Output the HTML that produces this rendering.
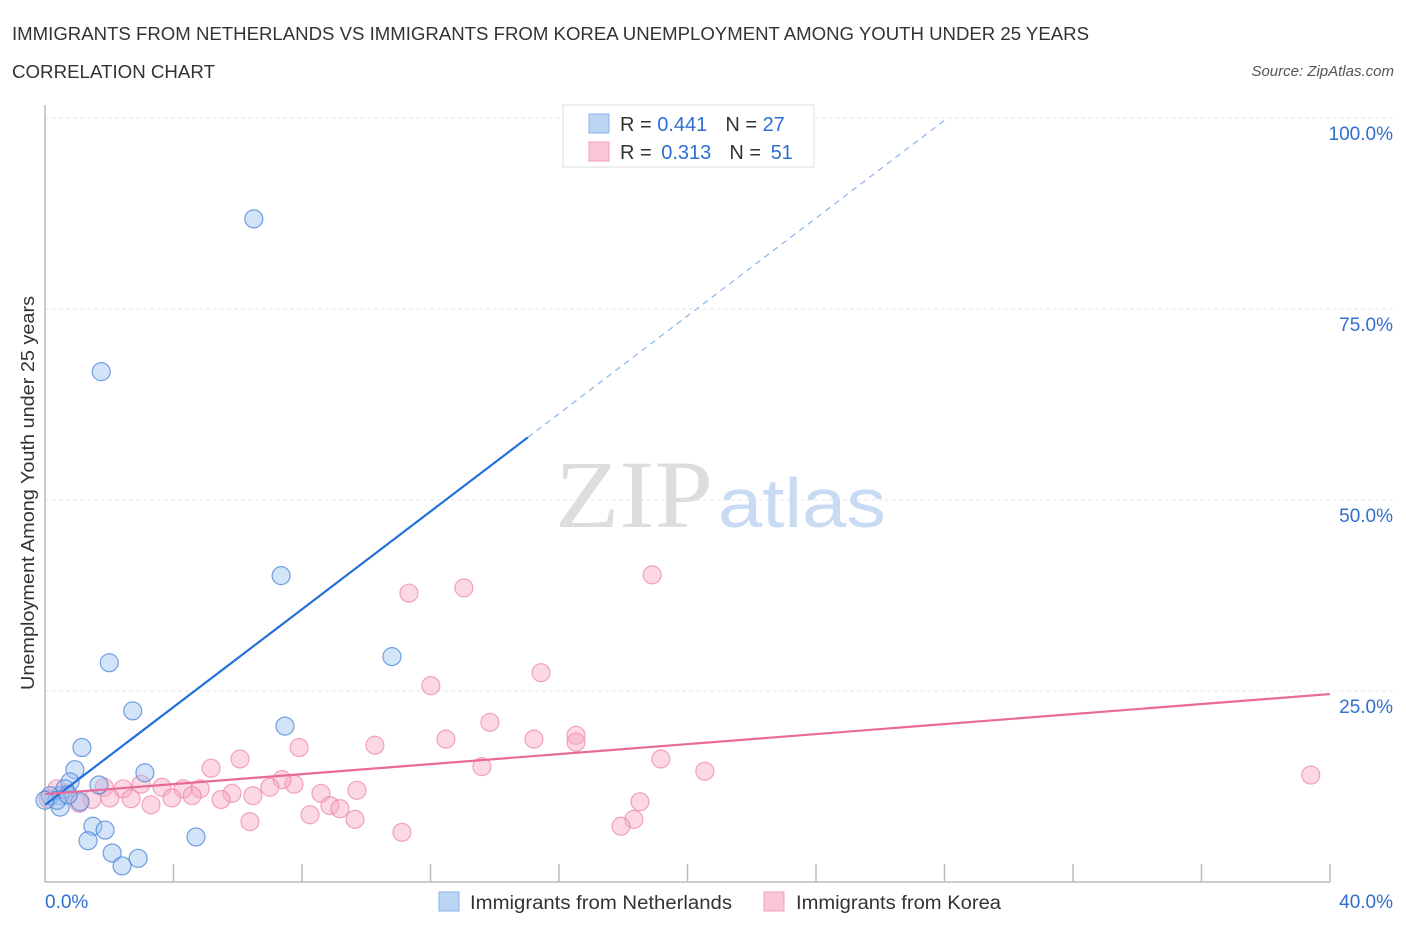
<!DOCTYPE html>
<html><head><meta charset="utf-8"><style>
body{margin:0;background:#fff;font-family:"Liberation Sans",sans-serif;}
</style></head><body>
<svg width="1406" height="930" xmlns="http://www.w3.org/2000/svg" style="font-family:'Liberation Sans',sans-serif">
<text x="12" y="40" font-size="18" fill="#333" textLength="1077" lengthAdjust="spacingAndGlyphs">IMMIGRANTS FROM NETHERLANDS VS IMMIGRANTS FROM KOREA UNEMPLOYMENT AMONG YOUTH UNDER 25 YEARS</text>
<text x="12" y="78" font-size="18" fill="#333" textLength="203" lengthAdjust="spacingAndGlyphs">CORRELATION CHART</text>
<text x="1394" y="76" font-size="15" fill="#555" font-style="italic" text-anchor="end">Source: ZipAtlas.com</text>
<g id="grid"></g>
<text x="555" y="527" font-size="96" fill="#ddd" font-family="Liberation Serif" textLength="158" lengthAdjust="spacingAndGlyphs">ZIP</text>
<text x="718" y="527" font-size="70" fill="#c9dbf3" textLength="168" lengthAdjust="spacingAndGlyphs">atlas</text>
<g id="marks"></g>
<g>
<rect x="563" y="105" width="251" height="62" fill="#fff" stroke="#ddd"/>
<rect x="589" y="114" width="20" height="19" fill="#bcd5f5" stroke="#8ab4ea"/>
<rect x="589" y="142" width="20" height="19" fill="#f9c6d5" stroke="#f0a0b8"/>
<text x="620" y="131" font-size="20" fill="#333">R = <tspan fill="#2f6fd0">0.441</tspan><tspan dx="18">N = </tspan><tspan fill="#2f6fd0">27</tspan></text>
<text x="620" y="159" font-size="20" fill="#333">R = <tspan fill="#2f6fd0" dx="4">0.313</tspan><tspan dx="18">N = </tspan><tspan fill="#2f6fd0" dx="4">51</tspan></text>
</g>
<text transform="translate(34,493) rotate(-90)" font-size="18" fill="#333" text-anchor="middle" textLength="394" lengthAdjust="spacingAndGlyphs">Unemployment Among Youth under 25 years</text>
<text x="45" y="908" font-size="19" fill="#2f6fd0">0.0%</text>
<text x="1393" y="908" font-size="19" fill="#2f6fd0" text-anchor="end">40.0%</text>
<g>
<rect x="439" y="892" width="20" height="19" fill="#bcd5f5" stroke="#8ab4ea"/>
<text x="470" y="909" font-size="19" fill="#333" textLength="262" lengthAdjust="spacingAndGlyphs">Immigrants from Netherlands</text>
<rect x="764" y="892" width="20" height="19" fill="#f9c6d5" stroke="#f0a0b8"/>
<text x="796" y="909" font-size="19" fill="#333" textLength="205" lengthAdjust="spacingAndGlyphs">Immigrants from Korea</text>
</g>
</svg>
<script>
const yTicks=[25,50,75,100];
const yTickLabels=["25.0%","50.0%","75.0%","100.0%"];
const blueX=[6.5,1.75,7.35,2.0,10.8,2.73,7.47,1.15,3.11,0.93,0.78,1.68,0.47,0.16,0.62,1.09,0.47,1.49,1.87,1.34,2.09,2.9,2.4,4.7,0.37,0.72,0.0];
const blueY=[86.8,66.8,40.1,28.7,29.5,22.4,20.4,17.6,14.3,14.7,13.1,12.7,11.3,11.3,12.2,10.5,9.8,7.3,6.8,5.4,3.8,3.1,2.1,5.9,10.7,11.4,10.7];
const pinkX=[18.9,11.33,13.04,15.44,12.01,13.85,12.48,15.22,16.53,16.53,10.27,7.91,6.07,19.17,13.6,20.54,39.4,5.17,7.75,7.38,7.0,6.47,9.71,8.59,4.83,4.3,3.64,2.99,2.43,1.84,4.58,3.95,3.3,2.68,2.02,1.46,1.06,5.82,5.48,8.87,9.18,9.65,8.25,6.38,11.11,18.52,18.33,17.93,0.37,0.09,0.65];
const pinkY=[40.2,37.8,38.5,27.4,25.7,20.9,18.7,18.7,19.2,18.3,17.9,17.6,16.1,16.1,15.1,14.5,14.0,14.9,12.8,13.4,12.4,11.3,12.0,11.6,12.2,12.2,12.4,12.8,12.2,12.4,11.3,11.0,10.1,10.9,11.0,10.8,10.3,11.6,10.8,10.0,9.6,8.2,8.8,7.9,6.5,10.5,8.2,7.3,12.2,10.9,11.6];
const blueTrend=[10.1,3.2];
const pinkTrend=[11.5,0.3275];
const X0=45,X1=1330,Y0=882,Y1=118;
const sx=v=>X0+(v/40)*(X1-X0);
const sy=v=>Y0-(v/100)*(Y0-Y1);
const NS="http://www.w3.org/2000/svg";
function mk(t,a,p){const e=document.createElementNS(NS,t);for(const k in a)e.setAttribute(k,a[k]);p.appendChild(e);return e;}
const grid=document.getElementById('grid');
yTicks.forEach((t,i)=>{
 const l=mk('line',{x1:X0,x2:1394,y1:sy(t),y2:sy(t),stroke:'#e3e3e3','stroke-dasharray':'4,3'},grid);
 
 
 const tx=mk('text',{x:1393,y:sy(t)+22,'font-size':19,fill:'#2f6fd0','text-anchor':'end'},grid);
 tx.textContent=yTickLabels[i];
 
 
});
const ax=mk('line',{x1:X0,x2:X1,y1:Y0,y2:Y0,stroke:'#bbb','stroke-width':1.5},grid);


const ay=mk('line',{x1:X0,x2:X0,y1:105,y2:Y0,stroke:'#bbb','stroke-width':1.5},grid);


for(let i=1;i<=10;i++){const t=mk('line',{x1:sx(i*4),x2:sx(i*4),y1:Y0-18,y2:Y0,stroke:'#bbb','stroke-width':1.5},grid);
 
 }
const m=document.getElementById('marks');
pinkX.forEach((x,i)=>{const c=mk('circle',{cx:sx(x),cy:sy(pinkY[i]),r:9,fill:'rgba(246,168,192,0.45)',stroke:'rgba(236,130,165,0.7)','stroke-width':1.2},m);
 
 });
blueX.forEach((x,i)=>{const c=mk('circle',{cx:sx(x),cy:sy(blueY[i]),r:9,fill:'rgba(160,196,240,0.45)',stroke:'rgba(70,130,215,0.75)','stroke-width':1.2},m);
 
 });
const bEnd=15.03,bTop=(100-blueTrend[0])/blueTrend[1];
const b1=mk('line',{x1:sx(0),y1:sy(blueTrend[0]),x2:sx(bEnd),y2:sy(blueTrend[0]+blueTrend[1]*bEnd),stroke:'#2470d8','stroke-width':2.2},m);


const b2=mk('line',{x1:sx(bEnd),y1:sy(blueTrend[0]+blueTrend[1]*bEnd),x2:sx(bTop),y2:sy(100),stroke:'#8ab4ea','stroke-width':1.2,'stroke-dasharray':'6,5'},m);


const p1=mk('line',{x1:sx(0),y1:sy(pinkTrend[0]),x2:sx(40),y2:sy(pinkTrend[0]+pinkTrend[1]*40),stroke:'#e8699a','stroke-width':2.2},m);


</script>
</body></html>
